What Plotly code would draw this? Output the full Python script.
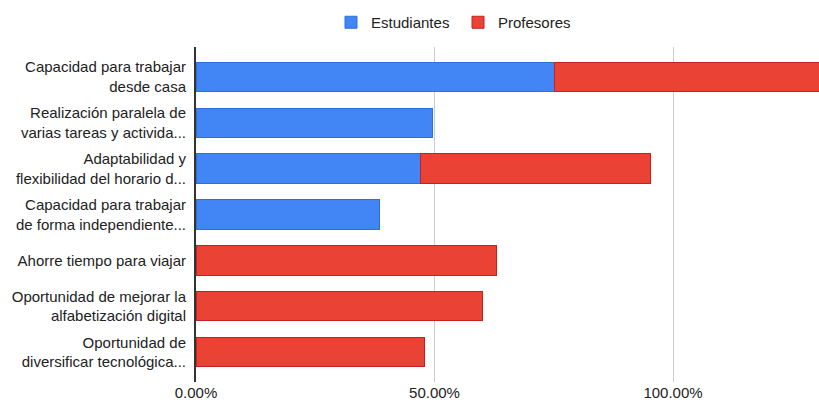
import plotly.graph_objects as go

categories = [
    "Capacidad para trabajar<br>desde casa",
    "Realización paralela de<br>varias tareas y activida...",
    "Adaptabilidad y<br>flexibilidad del horario d...",
    "Capacidad para trabajar<br>de forma independiente...",
    "Ahorre tiempo para viajar",
    "Oportunidad de mejorar la<br>alfabetización digital",
    "Oportunidad de<br>diversificar tecnológica...",
]
estudiantes = [75.1, 49.5, 47.0, 38.4, None, None, None]
profesores = [60.0, None, 48.2, None, 62.9, 60.0, 48.0]
x_tick_vals = [0, 50, 100]
x_tick_text = ["0.00%", "50.00%", "100.00%"]

FONT = "Liberation Sans, Arial, sans-serif"
TXT = "#222222"

fig = go.Figure()
fig.add_trace(go.Bar(
    y=categories, x=estudiantes, orientation="h", name="Estudiantes",
    marker=dict(color="#4285F4", line=dict(color="#2f6fd8", width=1)),
))
fig.add_trace(go.Bar(
    y=categories, x=profesores, orientation="h", name="Profesores",
    marker=dict(color="#EA4335", line=dict(color="#c5221f", width=1)),
))

fig.update_layout(
    width=819, height=403,
    barmode="stack", bargap=0.36,
    margin=dict(l=196, r=0, t=47, b=21),
    paper_bgcolor="white", plot_bgcolor="white",
    font=dict(family=FONT, size=15, color=TXT),
    showlegend=True,
    legend=dict(orientation="h", xref="container", yref="container",
                x=331 / 819, xanchor="left", y=1 - 6 / 403, yanchor="top",
                entrywidth=82,
                font=dict(size=15, color=TXT), traceorder="normal",
                bgcolor="rgba(0,0,0,0)"),
)
fig.update_xaxes(
    range=[0, 130.6], tickvals=x_tick_vals, ticktext=x_tick_text,
    showgrid=True, gridcolor="#cccccc", gridwidth=1, zeroline=False,
    ticks="", tickfont=dict(size=15, color=TXT), fixedrange=True,
)
fig.update_yaxes(
    range=[6.65, -0.65], showline=True, linecolor="#333333", linewidth=2,
    ticks="", ticklabelstandoff=5, tickfont=dict(size=15, color=TXT),
    showgrid=False,
)
fig.write_html("out.html", config={"displayModeBar": False},
               post_script="document.body.style.margin='0';")
